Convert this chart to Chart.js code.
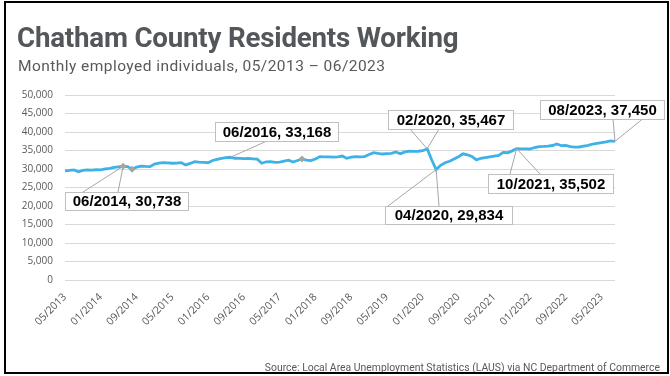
<!DOCTYPE html>
<html><head><meta charset="utf-8">
<script src="https://cdn.jsdelivr.net/npm/chart.js@4.4.0/dist/chart.umd.min.js"></script>
<style>
html,body{margin:0;padding:0;background:#fff;}
#wrap{position:relative;width:670px;height:376px;overflow:hidden;}
#frame{position:absolute;left:4px;top:1px;width:661px;height:369px;border:2px solid #000;pointer-events:none;}
#title{position:absolute;left:17px;top:21px;font-family:Roboto,sans-serif;font-weight:700;font-size:27.7px;color:#53565a;white-space:nowrap;letter-spacing:-0.2px;}
#sub{position:absolute;left:18px;top:57px;font-family:Roboto,sans-serif;font-weight:400;font-size:15.5px;color:#595959;white-space:nowrap;letter-spacing:0.45px;}
#src{position:absolute;right:10px;top:361px;font-family:Roboto,sans-serif;font-size:10.4px;color:#595959;white-space:nowrap;}
canvas{position:absolute;left:0;top:0;}
</style></head>
<body><div id="wrap">
<canvas id="c" width="670" height="376"></canvas>
<div id="title">Chatham County Residents Working</div>
<div id="sub">Monthly employed individuals, 05/2013 – 06/2023</div>
<div id="src">Source: Local Area Unemployment Statistics (LAUS) via NC Department of Commerce</div>
<div id="frame"></div>
</div>
<script>
const startYear = 2013, startMonth = 5;
const employed = [
29500,29600,29750,29250,29600,29750,29700,29800,29750,30000,
30200,30450,30600,30738,30650,29950,30500,30800,30700,30650,
31350,31600,31700,31650,31550,31600,31700,31100,31500,31950,
31850,31800,31700,32300,32600,32900,33050,33168,32900,32850,
32800,32850,32750,32650,31550,31950,32000,31800,31850,32150,
32400,31900,32300,32700,32400,32250,32700,33350,33300,33250,
33200,33300,33500,32900,33200,33350,33300,33350,33900,34400,
34200,34050,34150,34250,34600,34100,34600,34800,34750,34800,
34950,35467,32500,29834,31000,31700,32100,32700,33300,34100,
33850,33400,32450,32900,33100,33300,33500,33700,34500,34400,
34900,35502,35450,35450,35400,35800,36050,36100,36200,36350,
36750,36300,36350,36050,35900,35950,36200,36400,36750,36950,
37150,37350,37600,37450];
const months = [];
for (let i = 0; i < employed.length; i++) {
  const m = (startMonth - 1 + i) % 12 + 1;
  const y = startYear + Math.floor((startMonth - 1 + i) / 12);
  months.push(String(m).padStart(2,'0') + '/' + y);
}
const tickEvery = 8;
const yTicks = [0,5000,10000,15000,20000,25000,30000,35000,40000,45000,50000];
const markerIdx = [13, 15, 53];
const callouts = [
  {idx:13, text:'06/2014, 30,738', box:[65,192,123,18], anchors:[[83,192],[118,192]]},
  {idx:37, text:'06/2016, 33,168', box:[215,122,123,19], anchors:[[267,141]]},
  {idx:81, text:'02/2020, 35,467', box:[388,110,125,19], anchors:[[410,129],[439,129]]},
  {idx:83, text:'04/2020, 29,834', box:[385,206,127,18], anchors:[[388,206],[439,206]]},
  {idx:101, text:'10/2021, 35,502', box:[488,174,125,19], anchors:[[510,174],[540,174]]},
  {idx:123, text:'08/2023, 37,450', box:[540,100,124,19], anchors:[[613,119],[645,117]]}
];
const calloutPlugin = {
  id:'callouts',
  afterDatasetsDraw(chart){
    const ctx = chart.ctx, xs = chart.scales.x, ys = chart.scales.y;
    ctx.save();
    callouts.forEach(c=>{
      const px = xs.getPixelForValue(c.idx), py = ys.getPixelForValue(employed[c.idx]);
      ctx.strokeStyle = '#a6a6a6'; ctx.lineWidth = 1;
      c.anchors.forEach(a=>{ctx.beginPath();ctx.moveTo(a[0],a[1]);ctx.lineTo(px,py);ctx.stroke();});
    });
    callouts.forEach(c=>{
      const [bx,by,bw,bh] = c.box;
      ctx.fillStyle = '#fff'; ctx.fillRect(bx,by,bw,bh);
      ctx.strokeStyle = '#bfbfbf'; ctx.lineWidth = 1; ctx.strokeRect(bx+0.5,by+0.5,bw,bh);
      ctx.fillStyle = '#000'; ctx.font = 'bold 15px "Liberation Sans", Arial, sans-serif';
      ctx.textBaseline = 'middle'; ctx.textAlign = 'center';
      ctx.fillText(c.text, bx+bw/2+0.5, by+bh/2+1);
    });
    ctx.restore();
  }
};
new Chart(document.getElementById('c'), {
  type:'line',
  data:{labels:months, datasets:[{
    data:employed, borderColor:'#3eb1e6', borderWidth:2.8, tension:0,
    pointRadius:ctx=>markerIdx.includes(ctx.dataIndex)?3.5:0,
    pointStyle:'rectRot', pointBackgroundColor:'#a5a5a5', pointBorderColor:'#a5a5a5', pointBorderWidth:0
  }]},
  options:{
    responsive:false, animation:false, devicePixelRatio:1,
    layout:{padding:{left:0,right:55,top:95,bottom:0}},
    plugins:{legend:{display:false}, tooltip:{enabled:false}},
    scales:{
      x:{ offset:false,
        grid:{display:false}, border:{display:false},
        ticks:{autoSkip:false, minRotation:45, maxRotation:45, color:'#595959', padding:3,
          font:{family:'"Open Sans", sans-serif', size:10.5},
          callback:(v,i)=> i % tickEvery === 0 ? months[i] : null},
        afterFit:s=>{s.height = 96;}
      },
      y:{ min:0, max:50000,
        afterBuildTicks:s=>{s.ticks = yTicks.map(v=>({value:v}));},
        grid:{color:'#d9d9d9', lineWidth:1, drawTicks:false}, border:{display:false},
        ticks:{color:'#595959', padding:12, font:{family:'"Open Sans", sans-serif', size:10},
          callback:v=>v.toLocaleString('en-US')},
        afterFit:s=>{s.width = 65;}
      }
    }
  },
  plugins:[calloutPlugin]
});
</script>
</body></html>
